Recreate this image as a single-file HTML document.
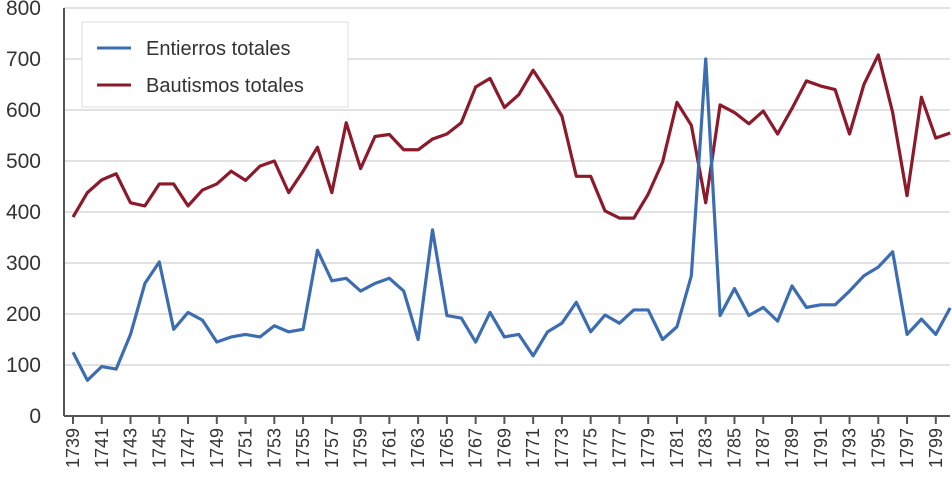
<!DOCTYPE html>
<html><head><meta charset="utf-8"><style>
body{margin:0;background:#fff;}
svg{display:block;font-family:"Liberation Sans",sans-serif;}
</style></head><body>
<svg id="c" width="952" height="482"></svg>
<script>
const years=[];for(let y=1739;y<=1800;y++)years.push(y);
const entierros=[125,70,97,92,160,260,302,170,203,188,145,155,160,155,177,165,170,325,265,270,245,260,270,245,150,365,197,192,145,203,155,160,118,165,182,223,165,198,182,208,208,150,175,275,700,197,250,197,213,186,255,213,218,218,245,275,292,322,160,190,160,212];
const bautismos=[390,438,463,475,418,412,455,455,412,443,455,480,462,490,500,438,480,527,438,575,485,548,552,522,522,543,553,575,645,662,605,630,678,635,588,470,470,402,388,388,435,498,615,570,418,610,595,573,598,553,603,657,647,640,553,650,708,595,432,625,545,555];
const yTicks=[0,100,200,300,400,500,600,700,800];
const NS="http://www.w3.org/2000/svg";
const svg=document.getElementById('c');
const X=y=>73+(y-1739)*14.38;
const Y=v=>416-v*0.51;
function mk(t,a){const e=document.createElementNS(NS,t);for(const k in a)e.setAttribute(k,a[k]);svg.appendChild(e);return e;}
yTicks.forEach(v=>{
 const g=mk('line',{x1:64,x2:950,y1:Y(v),y2:Y(v),stroke:'#d9d9d9','stroke-width':1.5});
 
 
 const t=mk('text',{x:41,y:Y(v)+7,'text-anchor':'end','font-size':21,fill:'#333'});
 t.textContent=v;
 
 
});
const ax=mk('line',{x1:64,x2:64,y1:8,y2:416,stroke:'#555','stroke-width':2});


const bx=mk('line',{x1:64,x2:950,y1:416,y2:416,stroke:'#555','stroke-width':2});


years.forEach((y,i)=>{
 if(i%2)return;
 const tk=mk('line',{x1:X(y),x2:X(y),y1:416,y2:424,stroke:'#555','stroke-width':2});
 
 
 const t=mk('text',{x:0,y:0,'text-anchor':'end','font-size':18,fill:'#333',transform:`translate(${X(y)+6},428) rotate(-90)`});
 t.textContent=y;
 
 
});
function line(data,color,name){
 const p=mk('polyline',{points:data.map((v,i)=>X(years[i])+','+Y(v)).join(' '),fill:'none',stroke:color,'stroke-width':3.2,'stroke-linejoin':'round'});
 
 
}
line(bautismos,'#8b1a2b','bautismos-line');
line(entierros,'#3c6db0','entierros-line');
const lg=mk('rect',{x:82,y:22,width:266,height:85,fill:'#fff',stroke:'#ddd','stroke-width':1});


[['Entierros totales','#3c6db0',48],['Bautismos totales','#8b1a2b',85]].forEach(([n,c,yy])=>{
 const l=mk('line',{x1:97,x2:131,y1:yy,y2:yy,stroke:c,'stroke-width':3});
 
 
 const t=mk('text',{x:146,y:yy+7,'font-size':20,fill:'#333'});
 t.textContent=n;
 
 
});
</script>
</body></html>
